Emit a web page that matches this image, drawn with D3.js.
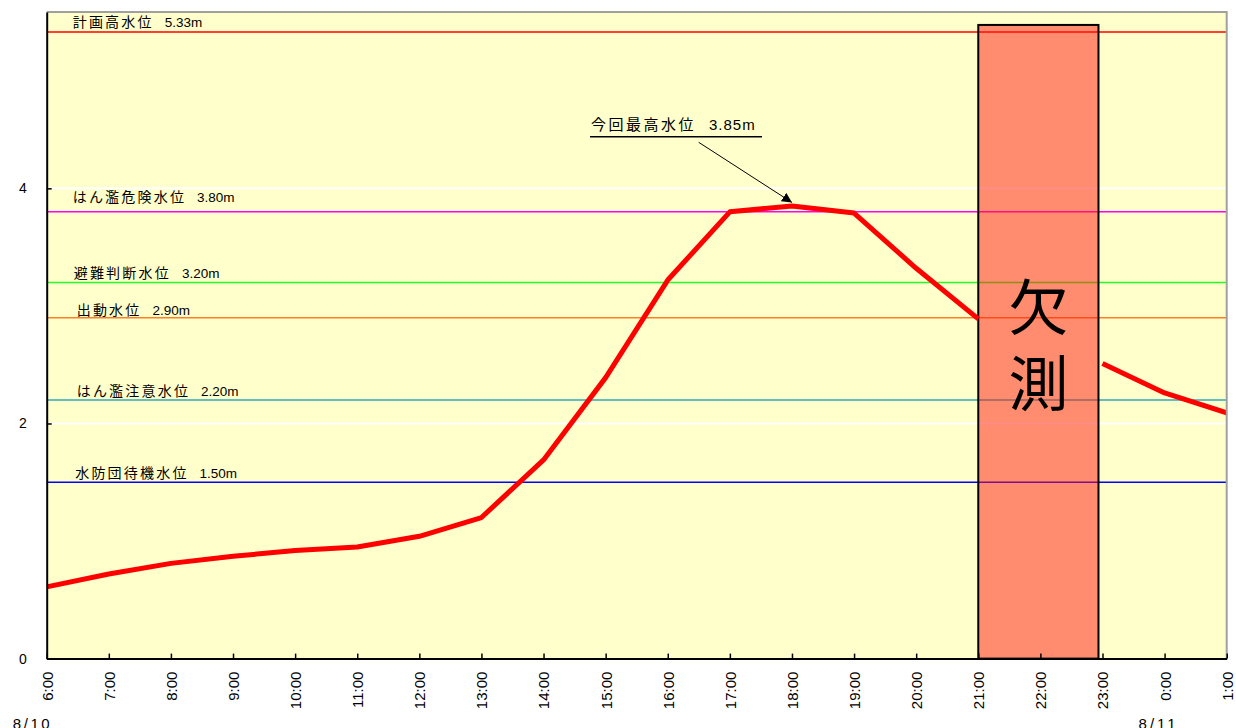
<!DOCTYPE html>
<html lang="ja">
<head>
<meta charset="utf-8">
<script src="https://cdn.jsdelivr.net/npm/d3@7"></script>
<style>
  html, body { margin: 0; padding: 0; background: #ffffff; }
  svg { display: block; }
  .jp { font-family: "Noto Sans CJK JP", "Noto Sans", sans-serif; }
  .num { font-family: "Liberation Sans", Arial, sans-serif; }
</style>
</head>
<body>
<svg id="chart" width="1236" height="728"></svg>
<script>
// Hourly observation times (8/10 6:00 through 8/11 1:00)
const times = ["6:00","7:00","8:00","9:00","10:00","11:00","12:00","13:00","14:00",
  "15:00","16:00","17:00","18:00","19:00","20:00","21:00","22:00","23:00","0:00","1:00"];

// Water level (m); null = no observation
const levels = [0.61, 0.72, 0.81, 0.87, 0.92, 0.95, 1.04, 1.20, 1.69, 2.39,
  3.22, 3.80, 3.85, 3.79, 3.32, 2.89, null, 2.51, 2.26, 2.09];

// Reference water levels
const refNames  = ["計画高水位", "はん濫危険水位", "避難判断水位", "出動水位", "はん濫注意水位", "水防団待機水位"];
const refValues = [5.33, 3.80, 3.20, 2.90, 2.20, 1.50];
const refColors = ["#ff0000", "#ff00ff", "#22ff22", "#ff7f27", "#30a8b8", "#0000ff"];

// Y axis ticks
const yTicks = [0, 2, 4];

// Missing-observation window and its label
const missingFrom = "21:00";
const missingTo = "23:00";
const missingTop = 5.39;
const missingLabel = ["欠", "測"];

// Peak annotation
const peakName = "今回最高水位";
const peakTime = "18:00";
const peakValue = 3.85;

// Date labels
const dateLabels = ["8/10", "8/11"];

(function draw() {
  const svg = d3.select("#chart");
  const pl = 46.7, pr = 1226.7, pt = 12, pb = 658.6;

  const x = d3.scalePoint().domain(times).range([pl, pr]).padding(0);
  const y = d3.scaleLinear().domain([0, 5.5]).range([pb, pt]);

  const defs = svg.append("defs");

  // Plot background
  svg.append("rect")
    .attr("x", pl).attr("y", pt)
    .attr("width", pr - pl).attr("height", pb - pt)
    .attr("fill", "#ffffcc");

  defs.append("clipPath").attr("id", "plotClip")
    .append("rect")
    .attr("x", pl).attr("y", pt)
    .attr("width", pr - pl).attr("height", pb - pt);

  // White gridlines
  svg.append("g").selectAll("line")
    .data(yTicks.filter(d => d > 0))
    .join("line")
    .attr("x1", pl).attr("x2", pr)
    .attr("y1", d => y(d)).attr("y2", d => y(d))
    .attr("stroke", "#ffffff").attr("stroke-width", 2);

  // Reference lines
  const refs = refNames.map((n, i) => ({ name: n, value: refValues[i], color: refColors[i] }));
  svg.append("g").selectAll("line")
    .data(refs)
    .join("line")
    .attr("x1", pl).attr("x2", pr)
    .attr("y1", d => y(d.value)).attr("y2", d => y(d.value))
    .attr("stroke", d => d.color).attr("stroke-width", 1.5);

  // Reference line labels (small nudges per label)
  const labelDx = [26, 26, 27, 30, 30, 28.5];
  const labelDy = [-4.5, -9.5, -4, -3, -3.5, -4];
  const refText = svg.append("g").selectAll("text")
    .data(refs)
    .join("text")
    .attr("x", (d, i) => pl + labelDx[i])
    .attr("y", (d, i) => y(d.value) + labelDy[i])
    .attr("fill", "#000");
  refText.append("tspan")
    .attr("class", "jp")
    .style("font-size", "14px")
    .style("letter-spacing", "2.2px")
    .text(d => d.name);
  refText.append("tspan")
    .attr("class", "num")
    .attr("dx", 11)
    .style("font-size", "13.5px")
    .text(d => d.value.toFixed(2) + "m");

  // Missing-observation box (semi-transparent over the reference lines)
  const bx0 = x(missingFrom), bx1 = x(missingTo) - 4;
  svg.append("rect")
    .attr("x", bx0).attr("y", y(missingTop))
    .attr("width", bx1 - bx0).attr("height", pb - y(missingTop))
    .attr("fill", "#ff1a10").attr("fill-opacity", 0.5)
    .attr("stroke", "#000").attr("stroke-width", 2);

  svg.append("g").selectAll("text")
    .data(missingLabel)
    .join("text")
    .attr("class", "jp")
    .attr("x", (bx0 + bx1) / 2)
    .attr("y", (d, i) => 330 + i * 76)
    .attr("text-anchor", "middle")
    .style("font-size", "60px")
    .attr("fill", "#000")
    .text(d => d);

  // Water level line
  const line = d3.line()
    .defined(d => d.v != null)
    .x(d => x(d.t))
    .y(d => y(d.v));
  svg.append("path")
    .datum(times.map((t, i) => ({ t, v: levels[i] })))
    .attr("clip-path", "url(#plotClip)")
    .attr("d", line)
    .attr("fill", "none")
    .attr("stroke", "#ff0000")
    .attr("stroke-width", 5)
    .attr("stroke-linejoin", "round");

  // Plot frame: grey top/right
  svg.append("path")
    .attr("d", `M${pl},${pt}H${pr}V${pb}`)
    .attr("fill", "none").attr("stroke", "#a0a0a0").attr("stroke-width", 2);

  // Y axis
  const yAxis = svg.append("g")
    .attr("transform", `translate(${pl},0)`)
    .call(d3.axisLeft(y).tickValues(yTicks).tickSize(-5).tickSizeOuter(0).tickPadding(20).tickFormat(d3.format("d")));
  yAxis.select(".domain").attr("stroke", "#000").attr("stroke-width", 2);
  yAxis.selectAll(".tick line").attr("stroke", "#000").attr("stroke-width", 1.5);
  yAxis.selectAll(".tick text")
    .attr("class", "num").style("font-size", "14px").attr("fill", "#000");

  // X axis
  const xAxis = svg.append("g")
    .attr("transform", `translate(0,${pb})`)
    .call(d3.axisBottom(x).tickSize(-5).tickSizeOuter(0));
  xAxis.select(".domain").attr("stroke", "#000").attr("stroke-width", 2);
  xAxis.selectAll(".tick line").attr("stroke", "#000").attr("stroke-width", 1.5);
  xAxis.selectAll(".tick text")
    .attr("class", "num")
    .style("font-size", "15px")
    .attr("fill", "#000")
    .attr("transform", "rotate(-90)")
    .attr("text-anchor", "end")
    .attr("x", -13)
    .attr("y", 0)
    .attr("dy", "0.36em");

  // Date labels
  svg.append("g").selectAll("text")
    .data(dateLabels)
    .join("text")
    .attr("class", "num")
    .attr("x", (d, i) => i === 0 ? x(times[0]) - 34 : x("0:00") - 26)
    .attr("y", 729)
    .attr("textLength", 37)
    .attr("lengthAdjust", "spacing")
    .style("font-size", "15px")
    .attr("fill", "#000")
    .text(d => d);

  // Peak annotation with underline and arrow
  const px = x(peakTime), py = y(peakValue);
  const ann = svg.append("text")
    .attr("x", 591).attr("y", 129.5)
    .attr("fill", "#000");
  ann.append("tspan").attr("class", "jp")
    .style("font-size", "15px").style("letter-spacing", "2.5px")
    .text(peakName);
  ann.append("tspan").attr("class", "num")
    .attr("dx", 13)
    .style("font-size", "15px").style("letter-spacing", "1px")
    .text(peakValue.toFixed(2) + "m");

  svg.append("line")
    .attr("x1", 590).attr("x2", 762)
    .attr("y1", 136.7).attr("y2", 136.7)
    .attr("stroke", "#000").attr("stroke-width", 1.5);

  defs.append("marker")
    .attr("id", "arrowHead")
    .attr("viewBox", "0 0 10 10")
    .attr("refX", 10).attr("refY", 5)
    .attr("markerWidth", 10).attr("markerHeight", 10)
    .attr("markerUnits", "userSpaceOnUse")
    .attr("orient", "auto")
    .append("path").attr("d", "M0,0L10,5L0,10Z").attr("fill", "#000");

  svg.append("line")
    .attr("x1", 698.7).attr("y1", 142.3)
    .attr("x2", px).attr("y2", py - 3.5)
    .attr("stroke", "#000").attr("stroke-width", 1)
    .attr("marker-end", "url(#arrowHead)");
})();
</script>
</body>
</html>
